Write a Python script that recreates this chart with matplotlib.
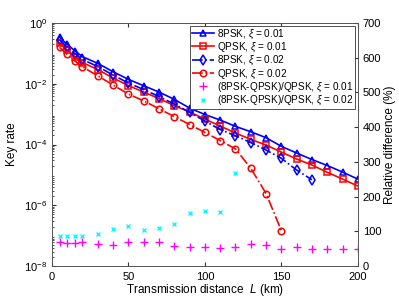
import matplotlib
matplotlib.use("Agg")
import matplotlib.pyplot as plt
from matplotlib.ticker import FixedLocator, LogLocator, NullFormatter

plt.rcParams['font.family'] = ['Liberation Sans', 'DejaVu Sans']
plt.rcParams['mathtext.fontset'] = 'custom'
plt.rcParams['mathtext.it'] = 'Liberation Sans:italic'
plt.rcParams['mathtext.rm'] = 'Liberation Sans'

# transmission distance (km)
L = [5, 10, 15, 20, 30, 40, 50, 60, 70, 80, 90, 100, 110, 120, 130, 140,
     150, 160, 170, 180, 190, 200]

psk8_001 = [0.338, 0.199, 0.122, 0.0778, 0.0471, 0.0249, 0.0140, 0.00863,
            0.00535, 0.00308, 0.00159, 0.000973, 0.000641, 0.000397, 0.000264,
            0.000168, 8.73e-5, 5.25e-5, 3.21e-5, 2.04e-5, 1.24e-5, 7.3e-6]
qpsk_001 = [0.220, 0.129, 0.0789, 0.0501, 0.0295, 0.0155, 0.00875, 0.00535,
            0.00327, 0.00192, 0.00118, 0.000691, 0.000407, 0.000239, 0.000148,
            9.63e-5, 5.66e-5, 3.33e-5, 2.12e-5, 1.22e-5, 7.3e-6, 4.3e-6]

L_8psk2 = L[:19]
psk8_002 = [0.276, 0.162, 0.0991, 0.0629, 0.0370, 0.0194, 0.0106, 0.00647,
            0.00380, 0.00216, 0.00115, 0.000594, 0.000312, 0.000195, 0.000116,
            6.59e-5, 3.52e-5, 1.45e-5, 6.9e-6]

L_qpsk2 = L[:17]
qpsk_002 = [0.158, 0.0933, 0.0562, 0.0363, 0.0182, 0.00912, 0.00457, 0.00275,
            0.00151, 0.000832, 0.000457, 0.000251, 0.000135, 7.2e-5, 1.66e-5,
            2.45e-6, 1.45e-7]

# relative difference (%)
rel_001 = [69, 67, 67, 70, 65, 62, 69, 69, 68, 58, 54, 54, 53, 56, 63, 60,
           49, 56, 48, 48, 48, 48]
L_rel2 = L[:14]
rel_002 = [87, 87, 87, 87, 92, 106, 115, 104, 110, 120, 153, 160, 156, 269]

fig = plt.figure(figsize=(3.99, 2.99), dpi=100)
ax = fig.add_axes([0.130, 0.110, 0.767, 0.813])
ax2 = ax.twinx()
# key-rate axis on top so the legend (on it) covers nothing wrongly
ax.set_zorder(ax2.get_zorder() + 1)
ax.patch.set_visible(False)

lw = 1.2
ms = 4.7
h1, = ax.semilogy(L, psk8_001, '-^', color='#0000ff', lw=lw, ms=ms,
                  mfc='none', mew=1.1, label=r'8PSK, $\xi$ = 0.01')
h2, = ax.semilogy(L, qpsk_001, '-s', color='#ff0000', lw=lw, ms=ms,
                  mfc='none', mew=1.1, label=r'QPSK, $\xi$ = 0.01')
h3, = ax.semilogy(L_8psk2, psk8_002, '-.d', color='#0000ff', lw=lw, ms=ms,
                  mfc='none', mew=1.1, label=r'8PSK, $\xi$ = 0.02')
h4, = ax.semilogy(L_qpsk2, qpsk_002, '-.o', color='#ff0000', lw=lw, ms=ms,
                  mfc='none', mew=1.1, label=r'QPSK, $\xi$ = 0.02')

h5, = ax2.plot(L, rel_001, '+', color='#ff00ff', ms=5.5, mew=1.0, ls='none',
               label=r'(8PSK-QPSK)/QPSK, $\xi$ = 0.01')
h6, = ax2.plot(L_rel2, rel_002, 'x', color='#00ffff', ms=3.5, mew=1.0, ls='none',
               label=r'(8PSK-QPSK)/QPSK, $\xi$ = 0.02')

ax.set_xlim(0, 200)
ax.set_ylim(1e-8, 1e0)
ax2.set_ylim(0, 700)
ax.set_xticks([0, 50, 100, 150, 200])
ax.yaxis.set_major_locator(FixedLocator([1e-8, 1e-6, 1e-4, 1e-2, 1e0]))
ax.yaxis.set_minor_locator(LogLocator(base=10, subs=range(2, 10), numticks=20))
ax.yaxis.set_minor_formatter(NullFormatter())
ax2.set_yticks(range(0, 701, 100))

for a in (ax, ax2):
    a.tick_params(direction='in', which='both', labelsize=8, color='#333333')
    a.tick_params(which='major', length=3)
    a.tick_params(which='minor', length=1.5)
    for s in a.spines.values():
        s.set_color('#555555')
        s.set_linewidth(0.6)
ax.tick_params(top=True, which='major')
ax.tick_params(axis='x', pad=4)

ax.set_xlabel(r'Transmission distance  $L$ (km)', fontsize=8.5, labelpad=0)
ax.set_ylabel('Key rate', fontsize=8.5, labelpad=4)
ax2.set_ylabel('Relative difference (%)', fontsize=8.5, labelpad=2)

leg = ax.legend(handles=[h1, h2, h3, h4, h5, h6], loc='upper right',
                fontsize=7.2, frameon=True, fancybox=False, framealpha=1,
                edgecolor='#333333', borderpad=0.2, labelspacing=0.0,
                handlelength=2.2, handletextpad=0.35, borderaxespad=0.25)
leg.get_frame().set_linewidth(0.6)

fig.savefig('out.png', dpi=100)
